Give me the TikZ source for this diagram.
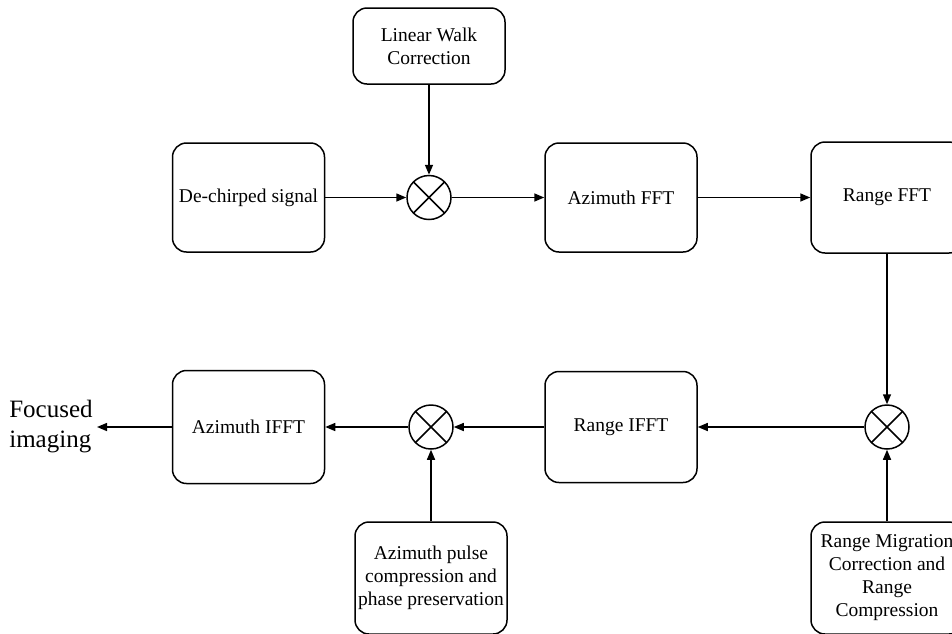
\documentclass[tikz,border=0pt]{standalone}
\usepackage{fontspec}
\setmainfont{Liberation Serif}
\usetikzlibrary{arrows.meta}
\begin{document}
\begin{tikzpicture}[x=1pt,y=-1pt,
  line width=1.5pt,
  block/.style={draw, rounded corners=14pt, align=center, inner sep=0pt,
    minimum width=152pt, font=\fontsize{19.5}{23}\selectfont},
  mixer/.style={draw, circle, minimum size=44pt, inner sep=0pt,
    path picture={
      \draw (path picture bounding box.north west) -- (path picture bounding box.south east)
            (path picture bounding box.north east) -- (path picture bounding box.south west);}},
  flow/.style={-{Triangle[length=10pt,width=8pt]}}]
\useasboundingbox (0,0) rectangle (952,633);

% top row
\node[block, minimum height=109pt] (dechirp) at (248.5,197.5) {De-chirped signal};
\node[block, minimum height=76pt] (lwc) at (429,46) {Linear Walk\\Correction};
\node[mixer] (m1) at (429,197.5) {};
\node[block, minimum height=109pt] (azfft) at (621,197.5) {Azimuth FFT};
\node[block, minimum height=111pt] (rfft) at (887,197.5) {Range FFT};

% bottom row
\node[mixer] (m2) at (887,427) {};
\node[block, minimum height=111pt] (rifft) at (621,427) {Range IFFT};
\node[mixer] (m3) at (431,427) {};
\node[block, minimum height=113pt] (azifft) at (248.5,427) {Azimuth IFFT};
\node[font=\fontsize{25}{30}\selectfont, align=left, inner sep=0pt] (out) at (51,427) {Focused\\imaging};
\coordinate (outend) at (97,427);

% correction inputs
\node[block, minimum height=112pt] (azpulse) at (431,578) {Azimuth pulse\\compression and\\phase preservation};
\node[block, minimum height=112pt] (rmc) at (887,578) {Range Migration\\Correction and\\Range\\Compression};

% connectors
\draw[flow] (dechirp.east) -- (m1.west);
\draw[flow] (lwc.south) -- (m1.north);
\draw[flow] (m1.east) -- (azfft.west);
\draw[flow] (azfft.east) -- (rfft.west);
\draw[flow] (rfft.south) -- (m2.north);
\draw[flow] (rmc.north) -- (m2.south);
\draw[flow] (m2.west) -- (rifft.east);
\draw[flow] (rifft.west) -- (m3.east);
\draw[flow] (azpulse.north) -- (m3.south);
\draw[flow] (m3.west) -- (azifft.east);
\draw[flow] (azifft.west) -- (outend);
\end{tikzpicture}
\end{document}
